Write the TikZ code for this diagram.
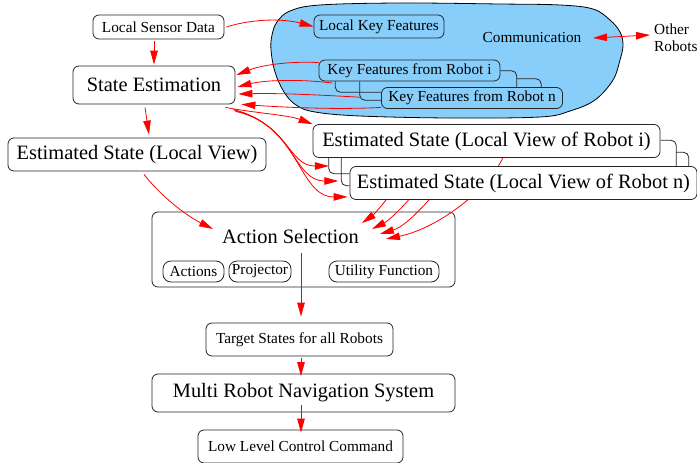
\documentclass[tikz,border=0pt]{standalone}
\usepackage{fontspec}
\setmainfont{Liberation Serif}
\usetikzlibrary{arrows.meta,calc}
\pgfdeclarelayer{back}
\pgfdeclarelayer{mid}
\pgfsetlayers{back,mid,main}
\definecolor{cloudblue}{RGB}{135,206,250}
\newcommand\fsm{\fontsize{15.3}{17.5}\selectfont}
\newcommand\flg{\fontsize{20.4}{24}\selectfont}
\begin{document}
\begin{tikzpicture}[x=1pt,y=-1pt,
  box/.style={draw=black!85, line width=0.8pt, rounded corners=6pt, inner sep=0pt, fill=white, align=center},
  pill/.style={box, rounded corners=8pt, font=\fsm, minimum height=21pt},
  sm/.style={font=\fsm},
  lg/.style={font=\flg},
  ghost/.style={inner sep=0pt, draw=none},
  tip/.style={Triangle[length=14pt,width=7.5pt]},
  arr/.style={red, line width=0.8pt, -{Triangle[length=14pt,width=7.5pt]}},
  shadowline/.style={draw=black!85, line width=0.8pt, rounded corners=5pt}]
\useasboundingbox (0,0) rectangle (697,463);

% cloud
\begin{pgfonlayer}{back}
\draw[fill=cloudblue, line width=0.8pt] plot[smooth cycle, tension=0.6] coordinates {
 (272,35) (277,22) (290,11) (320,5) (400,3) (500,4) (560,5) (593,9) (610,20) (620,32)
 (623,45) (620,60) (613,80) (595,100) (570,111) (540,117) (450,118) (360,116) (315,112)
 (296,105) (284,92) (275,72) (271,50)};
% action selection box
\node[box, minimum width=303pt, minimum height=75pt] (as) at (303.5,249.5) {};
\node[lg, inner sep=0pt] (astitle) at (290.5,237) {Action Selection};
\node[pill, minimum width=61pt] (act) at (193.5,271.5) {Actions};
\node[pill, minimum width=62pt] (proj) at (260,271.5) {Projector};
\node[pill, minimum width=110pt] (util) at (384,271.5) {Utility Function};
\end{pgfonlayer}

% main boxes
\node[box, sm, minimum width=131pt, minimum height=24pt] (lsd) at (158.5,27) {Local Sensor Data};
\node[box, lg, minimum width=162pt, minimum height=38pt] (se) at (154,85) {State Estimation};
\node[box, lg, minimum width=258pt, minimum height=33pt] (eslv) at (137,154.5) {Estimated State (Local View)};
\node[box, sm, fill=cloudblue, minimum width=130pt, minimum height=23pt] (lkf) at (379,26.5) {Local Key Features};
\node[sm, inner sep=0pt] (comm) at (532,38) {Communication};
\node[sm, inner sep=0pt, align=left, anchor=west] (other) at (654,38) {Other\\Robots};

% key feature stack
\node[box, sm, fill=cloudblue, minimum width=181pt, minimum height=21pt] (kfi) at (409.5,70.5) {Key Features from Robot i};
\node[ghost, minimum width=181pt, minimum height=21pt] (kf2) at (426,81.5) {};
\node[ghost, minimum width=181pt, minimum height=21pt] (kf3) at (450.5,89.5) {};
\node[box, sm, fill=cloudblue, minimum width=181pt, minimum height=21pt] (kfn) at (472,98) {Key Features from Robot n};

% estimated state stack
\node[box, lg, minimum width=347pt, minimum height=33pt] (esi) at (486.5,141) {Estimated State (Local View of Robot i)};
\node[ghost, minimum width=347pt, minimum height=33pt] (es2) at (502.5,157) {};
\node[ghost, minimum width=347pt, minimum height=33pt] (es3) at (515,169) {};
\node[box, lg, minimum width=347pt, minimum height=33pt] (esn) at (523.5,183) {Estimated State (Local View of Robot n)};

% lower boxes
\node[box, sm, minimum width=187pt, minimum height=33pt] (tgt) at (299.5,339.5) {Target States for all Robots};
\node[box, lg, minimum width=303pt, minimum height=38pt] (mrns) at (303.5,393) {Multi Robot Navigation System};
\node[box, sm, minimum width=205pt, minimum height=33pt] (llcc) at (300.5,446.5) {Low Level Control Command};

\begin{pgfonlayer}{mid}
% visible edges of stacked copies
\draw[shadowline] (kf2.west |- kfi.south) |- (kfn.west |- kf2.south);
\draw[shadowline] (kf3.west |- kfi.south) |- (kfn.west |- kf3.south);
\draw[shadowline] (kfi.east |- kf2.north) -| (kf2.east |- kfn.north);
\draw[shadowline] (kf2.east |- kf3.north) -| (kf3.east |- kfn.north);
\draw[shadowline] (es2.west |- esi.south) |- (esn.west |- es2.south);
\draw[shadowline] (es3.west |- esi.south) |- (esn.west |- es3.south);
\draw[shadowline] (esi.east |- es2.north) -| (es2.east |- esn.north);
\draw[shadowline] (es2.east |- es3.north) -| (es3.east |- esn.north);

% connectors
\draw[arr] ($(lsd.east)+(2,0)$) .. controls (255,18) and (285,19) .. (lkf.west);
\draw[arr] ($(lsd.south -| se.north)+(0,1.5)$) -- ($(se.north)+(0,-1)$);

\draw[arr] ($(kfi.north west)+(0,3)$) .. controls (290,61) and (262,65) .. ($(se.east)+(1,-10)$);
\draw[arr] ($(kf2.west)+(-3,1.5)$) .. controls (300,79) and (265,80) .. ($(se.east)+(2,2)$);
\draw[arr] ($(kf3.south west)+(0,-3)$) .. controls (320,95) and (280,93) .. ($(se.east)+(3,9)$);
\draw[arr] ($(kfn.south west)+(0,-1.5)$) .. controls (335,110) and (280,107) .. ($(se.south east)+(6,0)$);

\draw[arr] ($(se.south east)+(-10,3)$) .. controls (255,113) and (288,115) .. (esi.north west);
\draw[arr] ($(se.south east)+(-2,5)$) .. controls (290,125) and (288,166) .. ($(es2.west)+(0,9)$);
\draw[arr] ($(se.south east)+(-1,6)$) .. controls (295,125) and (293,181) .. ($(es3.west)+(-3,12)$);
\draw[arr] ($(se.south east)+(0,7)$) .. controls (300,125) and (298,197) .. ($(esn.south west)+(-2,-3)$);

\draw[arr] ($(se.south)+(-9,3)$) -- ($(eslv.north)+(12,-3)$);
\draw[arr] ($(eslv.south)+(7,3)$) .. controls (160,195) and (185,215) .. ($(astitle.west)+(-9,-8)$);

\draw[arr] ($(esi.south)+(19.5,-8)$) .. controls (495,185) and (440,228) .. ($(astitle.east)+(27,2)$);
\draw[arr] ($(es2.south)+(-47.5,-3)$) .. controls (437,190) and (410,225) .. ($(astitle.east)+(21,-3)$);
\draw[arr] ($(es3.south)+(-95,0)$) .. controls (410,200) and (390,220) .. ($(astitle.east)+(13,-8)$);
\draw[arr] ($(esn.south)+(-137.5,0)$) .. controls (380,208) and (372,216) .. ($(astitle.east)+(3,-14)$);

\draw[red, line width=0.8pt, {Triangle[length=14pt,width=7.5pt]}-{Triangle[length=14pt,width=7.5pt]}]
  ($(comm.east)+(11.5,0)$) -- ($(other.west)+(-4,-3)$);
\end{pgfonlayer}

% vertical chain
\coordinate (ax) at (301,0);
\draw[arr] ($(as.south -| ax)+(0,-34)$) -- ($(tgt.north -| ax)+(0,-6)$);
\draw[arr] ($(tgt.south -| ax)+(0,2)$) -- ($(mrns.north -| ax)+(0,2.5)$);
\draw[arr] ($(mrns.south -| ax)+(0,-7)$) -- ($(llcc.north -| ax)+(0,3)$);
\end{tikzpicture}
\end{document}
